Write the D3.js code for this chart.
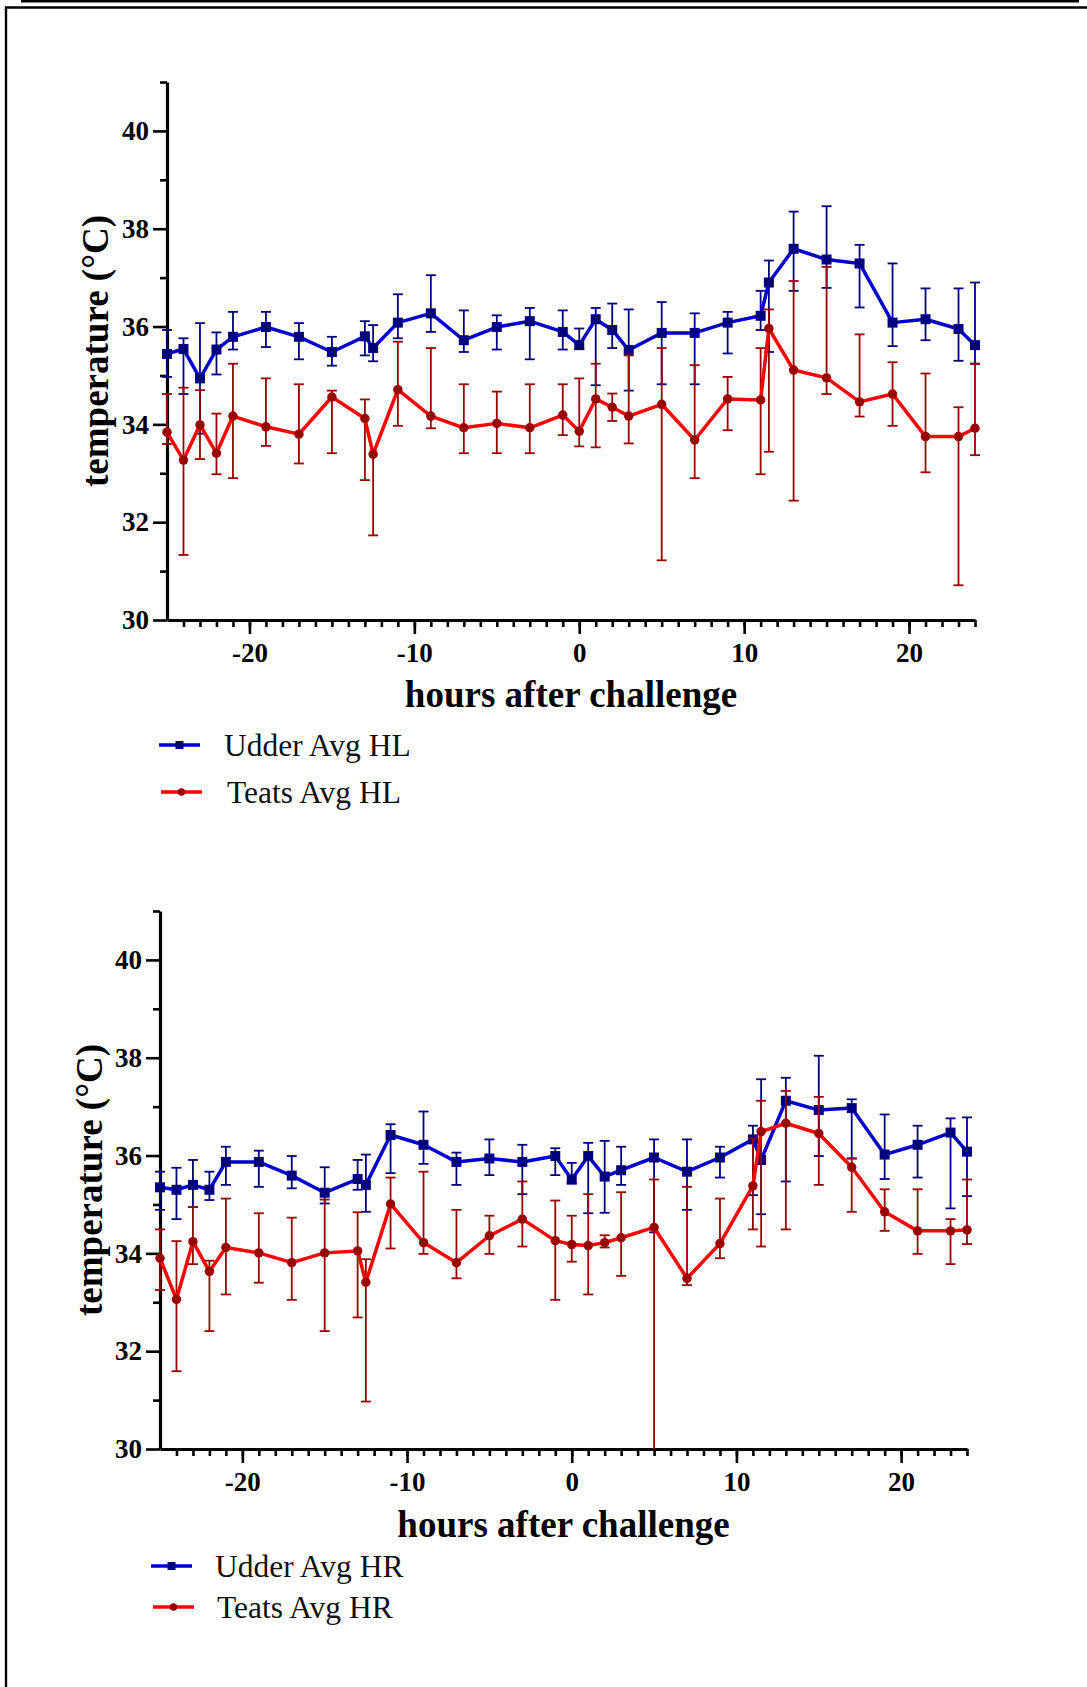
<!DOCTYPE html>
<html>
<head>
<meta charset="utf-8">
<script src="https://cdn.jsdelivr.net/npm/d3@7"></script>
<style>
  html, body { margin: 0; padding: 0; background: #fff; }
  svg { display: block; }
</style>
</head>
<body>
<svg id="fig" width="1087" height="1687"></svg>
<script>
// Sampling times (hours after challenge)
const hours = [-25,-24,-23,-22,-21,-19,-17,-15,-13,-12.5,-11,-9,-7,-5,-3,-1,0,1,2,3,5,7,9,11,11.5,13,15,17,19,21,23,24];

// Hind left quarter: udder
const udderHL   = [35.44,35.54,34.94,35.53,35.79,35.99,35.79,35.48,35.80,35.56,36.08,36.27,35.72,35.99,36.11,35.89,35.62,36.15,35.93,35.52,35.87,35.87,36.08,36.22,36.90,37.59,37.37,37.29,36.08,36.15,35.95,35.62];
const udderHLHi = [35.93,35.76,36.07,35.88,36.30,36.30,36.07,35.79,36.11,36.03,36.66,37.05,36.33,36.23,36.38,36.33,35.96,36.38,36.47,36.35,36.50,36.27,36.30,36.73,37.35,38.35,38.46,37.67,37.29,36.78,36.78,36.90];
const udderHLLo = [34.97,34.62,33.81,35.02,35.53,35.58,35.33,35.20,35.41,35.29,35.76,35.89,35.48,35.53,35.33,35.53,35.54,34.80,35.56,34.69,34.82,34.82,35.45,35.93,35.48,36.73,36.79,36.39,35.60,35.72,35.30,35.24];

// Hind left quarter: teats
const teatsHL   = [33.84,33.27,33.99,33.41,34.17,33.95,33.80,34.56,34.12,33.39,34.71,34.17,33.93,34.02,33.93,34.19,33.86,34.52,34.35,34.17,34.41,33.68,34.52,34.50,35.96,35.11,34.95,34.46,34.62,33.75,33.75,33.92];
const teatsHLHi = [34.62,34.75,34.70,34.22,35.24,34.94,34.82,34.69,34.51,33.39,35.69,35.56,34.82,34.67,34.82,34.82,34.94,35.24,34.63,35.41,35.56,35.21,34.97,35.56,36.35,36.93,37.22,35.84,35.27,35.04,34.35,35.24];
const teatsHLLo = [33.60,31.33,33.29,32.98,32.90,33.56,33.20,33.41,32.86,31.73,33.97,33.92,33.41,33.41,33.41,33.78,33.55,33.53,34.07,33.61,31.22,32.90,33.88,32.98,33.44,32.44,34.62,34.16,33.97,33.02,30.71,33.37];

// Hind right quarter: udder
const udderHR   = [35.35,35.30,35.40,35.30,35.87,35.87,35.59,35.24,35.52,35.40,36.42,36.22,35.87,35.94,35.87,35.99,35.51,35.99,35.57,35.70,35.96,35.67,35.96,36.33,35.91,37.12,36.93,36.97,36.02,36.22,36.47,36.08];
const udderHRHi = [35.67,35.75,35.91,35.67,36.18,36.10,35.99,35.76,35.91,36.02,36.64,36.90,36.06,36.33,36.22,36.15,35.85,36.26,36.30,36.18,36.33,36.33,36.18,36.61,37.56,37.59,38.04,37.15,36.84,36.61,36.76,36.78];
const udderHRLo = [34.89,34.70,34.95,35.09,35.40,35.36,35.33,35.02,35.30,34.85,35.64,35.83,35.40,35.60,35.21,35.60,35.43,34.82,34.83,35.40,34.43,34.89,35.55,35.19,34.80,35.47,35.99,35.94,35.52,35.55,34.92,35.17];

// Hind right quarter: teats
const teatsHR   = [33.90,33.06,34.24,33.63,34.12,34.01,33.81,34.01,34.05,33.41,35.01,34.22,33.81,34.36,34.70,34.26,34.18,34.16,34.22,34.32,34.53,33.49,34.20,35.38,36.49,36.66,36.45,35.76,34.85,34.46,34.46,34.48];
const teatsHRHi = [34.49,34.25,34.95,33.85,35.12,34.82,34.73,35.10,34.84,33.88,35.55,35.67,34.89,34.77,35.47,35.08,34.77,35.21,34.37,35.25,35.51,35.36,35.12,36.35,37.12,37.32,37.20,35.94,35.31,35.31,34.70,35.51];
const teatsHRLo = [33.25,31.59,33.78,32.41,33.16,33.40,33.05,32.41,32.69,30.97,34.10,33.99,33.49,33.99,34.14,33.05,33.83,33.16,34.12,33.54,30.00,33.35,33.90,34.49,34.14,34.49,35.40,34.85,34.46,33.99,33.78,34.19];

// Axis ticks and labels
const yTicksMajor = [30,32,34,36,38,40];
const yTicksMinor = [31,33,35,37,39,41];
const xTicksMajor = [-20,-10,0,10,20];
const xTicksMinor = d3.range(-24,25);
const yDomain = [30,41];
const xDomain = [-25,24];
const yTitle = "temperature (°C)";
const xTitle = "hours after challenge";
const legendHL = ["Udder Avg HL","Teats Avg HL"];
const legendHR = ["Udder Avg HR","Teats Avg HR"];

const SERIF = "'Liberation Serif','Times New Roman',serif";
const BLUE_LINE = "#0000cc", BLUE_MARK = "#00007f";
const RED_LINE = "#ff0000", RED_MARK = "#990000";

const svg = d3.select("#fig");

// page frame
svg.append("line")
  .attr("x1", 21).attr("x2", 1079).attr("y1", 1.2).attr("y2", 1.2)
  .attr("stroke", "#000").attr("stroke-width", 2.4);
svg.append("path")
  .attr("d", "M6,1690V7.5H1095")
  .attr("fill", "none").attr("stroke", "#000").attr("stroke-width", 2.4);

function panel(o) {
  const x = d3.scaleLinear().domain(xDomain).range([o.left, o.right]);
  const y = d3.scaleLinear().domain(yDomain).range([o.bottom, o.top]);
  const g = svg.append("g");

  // x axis: minor + major ticks
  const gxMinor = g.append("g").attr("transform", `translate(0,${o.bottom})`)
    .call(d3.axisBottom(x).tickValues(xTicksMinor).tickSize(7).tickSizeOuter(0).tickFormat(""));
  gxMinor.select(".domain").remove();
  g.append("g").attr("transform", `translate(0,${o.bottom})`)
    .call(d3.axisBottom(x).tickValues(xTicksMajor).tickSize(14).tickSizeOuter(0)
      .tickPadding(9).tickFormat(d => String(d)));

  // y axis: minor + major ticks
  const gyMinor = g.append("g").attr("transform", `translate(${o.left},0)`)
    .call(d3.axisLeft(y).tickValues(yTicksMinor).tickSize(7).tickSizeOuter(0).tickFormat(""));
  gyMinor.select(".domain").remove();
  g.append("g").attr("transform", `translate(${o.left},0)`)
    .call(d3.axisLeft(y).tickValues(yTicksMajor).tickSize(14).tickSizeOuter(0)
      .tickPadding(4).tickFormat(d => String(d)));

  g.selectAll(".domain").attr("stroke", "#000").attr("stroke-width", 3.2);
  g.selectAll(".tick line").attr("stroke", "#000").attr("stroke-width", 2.6);
  g.selectAll(".tick text")
    .attr("fill", "#000")
    .style("font-family", SERIF).style("font-weight", "bold").style("font-size", "27px");

  // axis titles
  g.append("text")
    .attr("x", (o.left + o.right) / 2).attr("y", o.xTitleY)
    .attr("text-anchor", "middle")
    .style("font-family", SERIF).style("font-weight", "bold").style("font-size", "37px")
    .text(xTitle);
  g.append("text")
    .attr("transform", `translate(${o.yTitleX},${(o.top + o.bottom) / 2}) rotate(-90)`)
    .attr("text-anchor", "middle")
    .style("font-family", SERIF).style("font-weight", "bold").style("font-size", "37px")
    .text(yTitle);

  // data series
  const series = [
    { mean: o.udder, hi: o.udderHi, lo: o.udderLo, line: BLUE_LINE, mark: BLUE_MARK, sym: d3.symbolSquare, size: 100 },
    { mean: o.teats, hi: o.teatsHi, lo: o.teatsLo, line: RED_LINE, mark: RED_MARK, sym: d3.symbolCircle, size: 70 }
  ];
  const capW = 5;
  series.forEach(s => {
    const pts = hours.map((h, i) => ({ h, m: s.mean[i], hi: s.hi[i], lo: s.lo[i] }));
    const sg = g.append("g");
    const eb = sg.append("g").attr("stroke", s.mark).attr("stroke-width", 1.8).attr("fill", "none");
    pts.forEach(p => {
      eb.append("line").attr("x1", x(p.h)).attr("x2", x(p.h)).attr("y1", y(p.lo)).attr("y2", y(p.hi));
      if (p.hi > p.m)
        eb.append("line").attr("x1", x(p.h) - capW).attr("x2", x(p.h) + capW).attr("y1", y(p.hi)).attr("y2", y(p.hi));
      if (p.lo < p.m && p.lo > yDomain[0])
        eb.append("line").attr("x1", x(p.h) - capW).attr("x2", x(p.h) + capW).attr("y1", y(p.lo)).attr("y2", y(p.lo));
    });
    sg.append("path")
      .datum(pts)
      .attr("fill", "none").attr("stroke", s.line).attr("stroke-width", 3.5)
      .attr("stroke-linejoin", "round")
      .attr("d", d3.line().x(d => x(d.h)).y(d => y(d.m)));
    sg.selectAll("path.mk").data(pts).enter().append("path")
      .attr("class", "mk")
      .attr("transform", d => `translate(${x(d.h)},${y(d.m)})`)
      .attr("d", d3.symbol(s.sym, s.size))
      .attr("fill", s.mark);
  });

  // legend
  o.legend.forEach((lg, i) => {
    const s = series[i];
    const lgG = g.append("g");
    lgG.append("line")
      .attr("x1", lg.x1).attr("x2", lg.x2).attr("y1", lg.y).attr("y2", lg.y)
      .attr("stroke", s.line).attr("stroke-width", 3.5);
    lgG.append("path")
      .attr("transform", `translate(${(lg.x1 + lg.x2) / 2},${lg.y})`)
      .attr("d", d3.symbol(s.sym, i === 0 ? 64 : 44))
      .attr("fill", s.mark);
    lgG.append("text")
      .attr("x", lg.tx).attr("y", lg.ty)
      .style("font-family", SERIF).style("font-size", "31.5px").attr("fill", "#111")
      .text(lg.label);
  });
}

panel({
  left: 167, right: 975, top: 82, bottom: 620,
  xTitleY: 707, yTitleX: 108,
  udder: udderHL, udderHi: udderHLHi, udderLo: udderHLLo,
  teats: teatsHL, teatsHi: teatsHLHi, teatsLo: teatsHLLo,
  legend: [
    { x1: 159, x2: 200, y: 745, tx: 224, ty: 756, label: legendHL[0] },
    { x1: 161, x2: 202, y: 792, tx: 227, ty: 803, label: legendHL[1] }
  ]
});

panel({
  left: 160, right: 967, top: 911, bottom: 1449,
  xTitleY: 1537, yTitleX: 102,
  udder: udderHR, udderHi: udderHRHi, udderLo: udderHRLo,
  teats: teatsHR, teatsHi: teatsHRHi, teatsLo: teatsHRLo,
  legend: [
    { x1: 151, x2: 192, y: 1566, tx: 215, ty: 1577, label: legendHR[0] },
    { x1: 153, x2: 194, y: 1607, tx: 217, ty: 1618, label: legendHR[1] }
  ]
});
</script>
</body>
</html>
